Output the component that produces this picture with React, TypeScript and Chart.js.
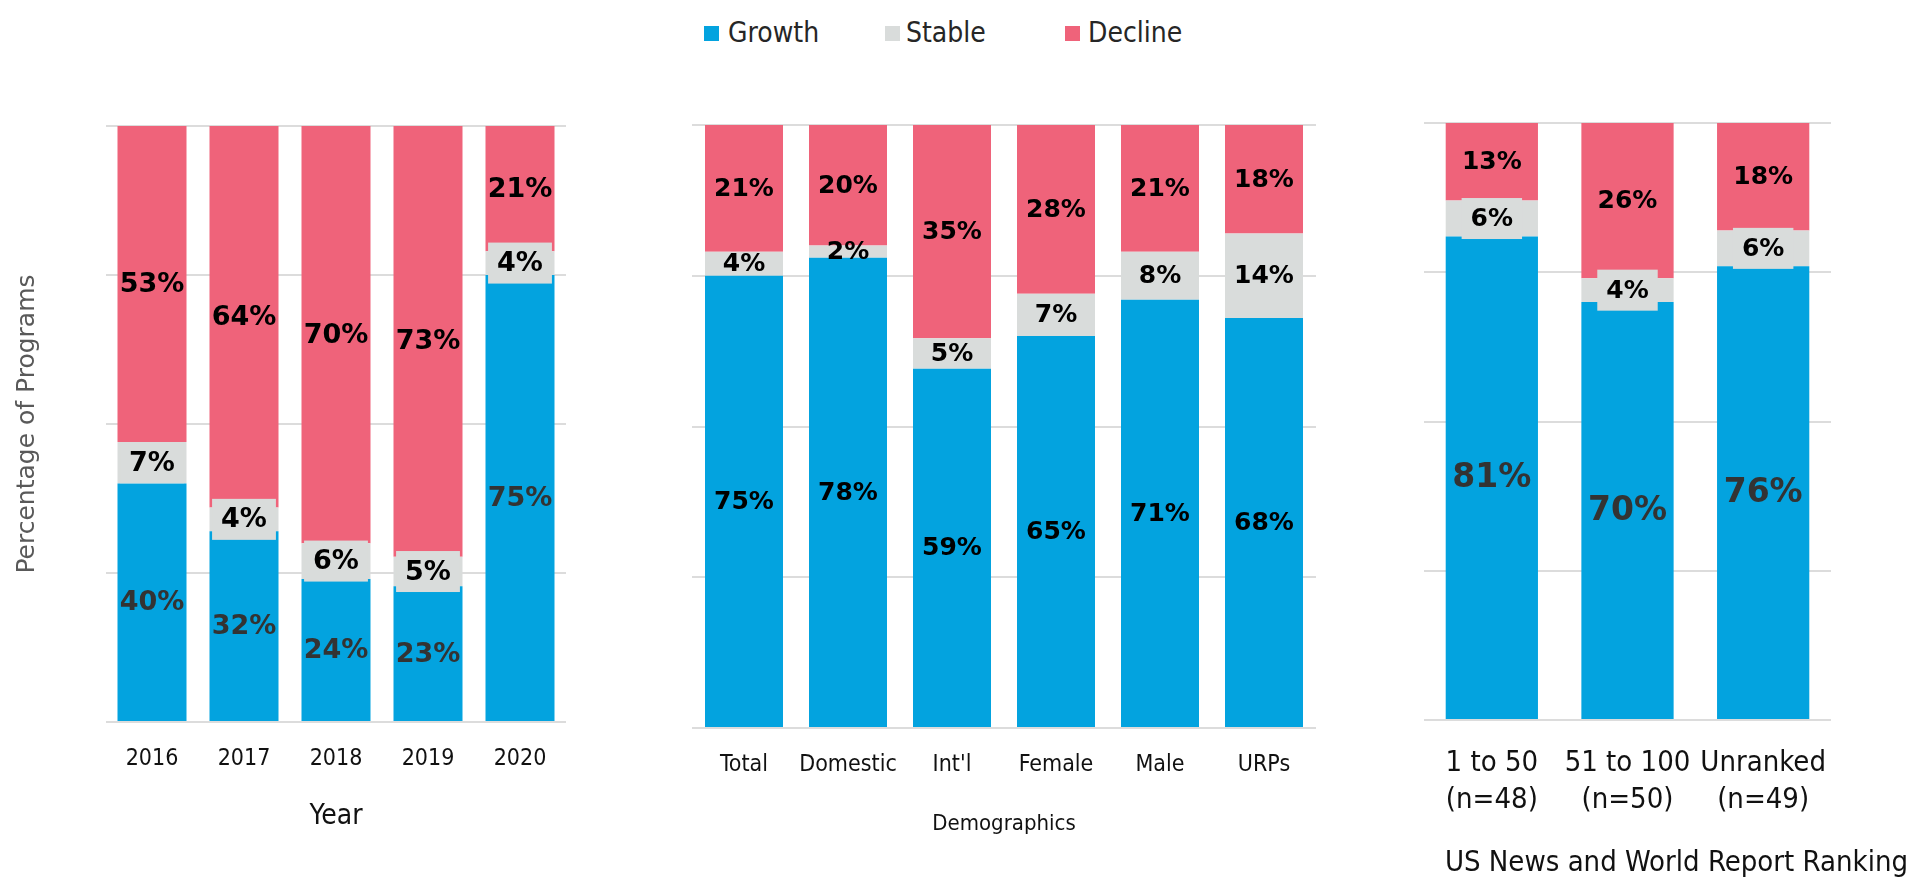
import React, { useEffect, useRef } from 'react';
import { Chart, registerables } from 'chart.js';

Chart.register(...registerables);

const FONT = '"DejaVu Sans Condensed", "DejaVu Sans", sans-serif';
const BOLD_FONT = '"DejaVu Sans", Verdana, sans-serif';

const seriesNames = ['Growth', 'Stable', 'Decline'];
const seriesColors = ['#03A3DF', '#D9DCDB', '#EF637A'];
const gridColor = '#DCDCDC';
const yGridValues = [0, 25, 50, 75, 100];

const yearCategories = ['2016', '2017', '2018', '2019', '2020'];
const yearGrowth = [40, 32, 24, 23, 75];
const yearStable = [7, 4, 6, 5, 4];
const yearDecline = [53, 64, 70, 73, 21];

const demoCategories = ['Total', 'Domestic', "Int'l", 'Female', 'Male', 'URPs'];
const demoGrowth = [75, 78, 59, 65, 71, 68];
const demoStable = [4, 2, 5, 7, 8, 14];
const demoDecline = [21, 20, 35, 28, 21, 18];

const rankCategories = [['1 to 50', '(n=48)'], ['51 to 100', '(n=50)'], ['Unranked', '(n=49)']];
const rankGrowth = [81, 70, 76];
const rankStable = [6, 4, 6];
const rankDecline = [13, 26, 18];

function buildDatasets(growth: number[], stable: number[], decline: number[], barPct: number) {
  const raw = [growth, stable, decline];
  const totals = growth.map((_, i) => growth[i] + stable[i] + decline[i]);
  return raw.map((vals, k) => ({
    label: seriesNames[k],
    data: vals.map((v, i) => (v / totals[i]) * 100),
    raw: vals,
    backgroundColor: seriesColors[k],
    borderWidth: 0,
    categoryPercentage: 1,
    barPercentage: barPct,
  }));
}

function segLabelPlugin(sizes: number[], colors: string[], boxed: boolean[]) {
  return {
    id: 'segLabels',
    afterDatasetsDraw(chart: any) {
      const { ctx, chartArea } = chart;
      const items: any[] = [];
      chart.data.datasets.forEach((ds: any, di: number) => {
        const meta = chart.getDatasetMeta(di);
        meta.data.forEach((el: any, i: number) => {
          const p = el.getProps(['x', 'y', 'base'], true);
          const top = Math.max(Math.min(p.y, p.base), chartArea.top);
          const bot = Math.min(Math.max(p.y, p.base), chartArea.bottom);
          items.push({ di, x: p.x, y: (top + bot) / 2, text: ds.raw[i] + '%' });
        });
      });
      ctx.save();
      ctx.textAlign = 'center';
      ctx.textBaseline = 'middle';
      for (const it of items) {
        if (!boxed[it.di]) continue;
        ctx.font = `bold ${sizes[it.di]}px ${BOLD_FONT}`;
        const w = ctx.measureText(it.text).width + 18;
        ctx.fillStyle = seriesColors[it.di];
        ctx.fillRect(it.x - w / 2, it.y - 20.5, w, 41);
      }
      for (const it of items) {
        ctx.font = `bold ${sizes[it.di]}px ${BOLD_FONT}`;
        ctx.fillStyle = colors[it.di];
        ctx.fillText(it.text, it.x, it.y + 1);
      }
      ctx.restore();
    },
  };
}

function yScale(width: number, title?: any) {
  return {
    stacked: true,
    min: yGridValues[0],
    max: yGridValues[yGridValues.length - 1],
    ticks: { display: false, stepSize: yGridValues[1] - yGridValues[0] },
    grid: { color: gridColor, lineWidth: 2, drawTicks: false },
    border: { display: false },
    title: title || { display: false },
    afterFit: (s: any) => { s.width = width; },
  };
}

export default function App() {
  const leftRef = useRef<HTMLCanvasElement>(null);
  const midRef = useRef<HTMLCanvasElement>(null);
  const rightRef = useRef<HTMLCanvasElement>(null);

  useEffect(() => {
    const charts: Chart[] = [];

    charts.push(new Chart(leftRef.current as HTMLCanvasElement, {
      type: 'bar',
      data: { labels: yearCategories, datasets: buildDatasets(yearGrowth, yearStable, yearDecline, 0.75) as any },
      options: {
        animation: false,
        responsive: false,
        layout: { padding: { top: 126, right: 34, left: 0, bottom: 0 } },
        plugins: { legend: { display: false }, tooltip: { enabled: false } },
        scales: {
          x: {
            stacked: true,
            grid: { display: false, drawTicks: false },
            border: { display: false },
            ticks: { font: { family: FONT, size: 23 }, color: '#111', padding: 23 },
            title: { display: true, text: 'Year', font: { family: FONT, size: 28 }, color: '#111', padding: { top: 0, bottom: 44 } },
            afterFit: (s: any) => { s.height = 156; },
          },
          y: yScale(106, {
            display: true,
            text: 'Percentage of Programs',
            font: { family: '"DejaVu Sans", sans-serif', size: 25 },
            color: '#595959',
            padding: { top: 12, bottom: 0 },
          }),
        } as any,
      },
      plugins: [segLabelPlugin([27, 27, 27], ['#333333', '#000000', '#000000'], [false, true, false])],
    }));

    charts.push(new Chart(midRef.current as HTMLCanvasElement, {
      type: 'bar',
      data: { labels: demoCategories, datasets: buildDatasets(demoGrowth, demoStable, demoDecline, 0.75) as any },
      options: {
        animation: false,
        responsive: false,
        layout: { padding: { top: 125, right: 64, left: 0, bottom: 0 } },
        plugins: { legend: { display: false }, tooltip: { enabled: false } },
        scales: {
          x: {
            stacked: true,
            grid: { display: false, drawTicks: false },
            border: { display: false },
            ticks: { font: { family: FONT, size: 23 }, color: '#111', padding: 23 },
            title: { display: true, text: 'Demographics', font: { family: FONT, size: 22 }, color: '#111', padding: { top: 0, bottom: 41 } },
            afterFit: (s: any) => { s.height = 150; },
          },
          y: yScale(92),
        } as any,
      },
      plugins: [segLabelPlugin([25, 25, 25], ['#000000', '#000000', '#000000'], [false, false, false])],
    }));

    charts.push(new Chart(rightRef.current as HTMLCanvasElement, {
      type: 'bar',
      data: { labels: rankCategories as any, datasets: buildDatasets(rankGrowth, rankStable, rankDecline, 0.68) as any },
      options: {
        animation: false,
        responsive: false,
        layout: { padding: { top: 123, right: 8, left: 0, bottom: 0 } },
        plugins: {
          legend: { display: false },
          tooltip: { enabled: false },
          title: {
            display: true,
            position: 'bottom',
            align: 'end',
            text: 'US News and World Report Ranking',
            font: { family: FONT, size: 29, weight: 'normal', lineHeight: '30px' } as any,
            color: '#111',
            padding: 0,
          },
        },
        scales: {
          x: {
            stacked: true,
            grid: { display: false, drawTicks: false },
            border: { display: false },
            ticks: { font: { family: FONT, size: 29, lineHeight: '37px' } as any, color: '#111', padding: 25 },
            afterFit: (s: any) => { s.height = 128; },
          },
          y: yScale(44),
          yR: {
            type: 'linear',
            position: 'right',
            display: true,
            grid: { display: false, drawTicks: false },
            border: { display: false },
            ticks: { display: false },
            afterFit: (s: any) => { s.width = 77; },
          },
        } as any,
      },
      plugins: [segLabelPlugin([33, 25, 25], ['#333333', '#000000', '#000000'], [false, true, false])],
    }));

    return () => { charts.forEach((c) => c.destroy()); };
  }, []);

  const legendItems = [
    { name: seriesNames[0], color: seriesColors[0], sq: 704, tx: 728 },
    { name: seriesNames[1], color: seriesColors[1], sq: 885, tx: 906 },
    { name: seriesNames[2], color: seriesColors[2], sq: 1065, tx: 1088 },
  ];

  return (
    <div style={{ position: 'absolute', left: 0, top: 0, width: 1916, height: 878, background: '#fff', overflow: 'hidden' }}>
      {legendItems.map((it) => (
        <React.Fragment key={it.name}>
          <div style={{ position: 'absolute', left: it.sq, top: 26, width: 15, height: 15, background: it.color }} />
          <div style={{ position: 'absolute', left: it.tx, top: 15, height: 36, lineHeight: '36px', fontFamily: FONT, fontSize: 28, color: '#262626', whiteSpace: 'nowrap' }}>{it.name}</div>
        </React.Fragment>
      ))}
      <canvas ref={leftRef} width={600} height={878} style={{ position: 'absolute', left: 0, top: 0, width: 600, height: 878 }} />
      <canvas ref={midRef} width={780} height={878} style={{ position: 'absolute', left: 600, top: 0, width: 780, height: 878 }} />
      <canvas ref={rightRef} width={536} height={878} style={{ position: 'absolute', left: 1380, top: 0, width: 536, height: 878 }} />
    </div>
  );
}
